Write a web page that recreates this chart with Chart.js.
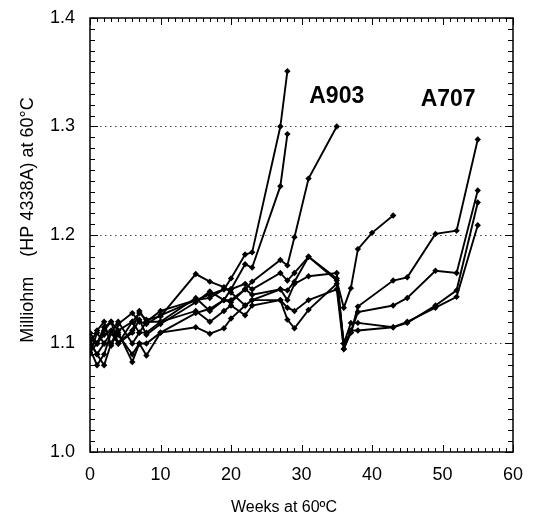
<!DOCTYPE html>
<html>
<head>
<meta charset="utf-8">
<script src="https://cdn.jsdelivr.net/npm/chart.js@4/dist/chart.umd.min.js"></script>
<style>
    html, body { margin: 0; padding: 0; background: #fff; }
    #wrap { width: 535px; height: 521px; }
</style>
</head>
<body>
<div id="wrap"><canvas id="chart"></canvas></div>
<script>
    "use strict";

    // weeks at 60 C and resistance (milliohm)
    const weeksA903a = [0, 1, 2, 3, 4, 6, 7, 8, 10, 15, 17, 19, 20, 22, 23, 27, 28];
    const ohmA903a   = [1.100, 1.112, 1.120, 1.098, 1.118, 1.128, 1.120, 1.118, 1.126, 1.140, 1.142, 1.150, 1.160, 1.182, 1.184, 1.300, 1.351];

    const weeksA903b = [0, 1, 2, 3, 4, 6, 7, 8, 10, 15, 17, 19, 20, 22, 23, 27, 28];
    const ohmA903b   = [1.092, 1.100, 1.108, 1.112, 1.100, 1.110, 1.122, 1.108, 1.118, 1.138, 1.148, 1.140, 1.150, 1.173, 1.170, 1.245, 1.293];

    const weeksA903c = [0, 1, 2, 3, 4, 6, 7, 8, 10, 15, 17, 19, 20, 22, 23, 27, 28, 29, 31, 35];
    const ohmA903c   = [1.102, 1.090, 1.080, 1.100, 1.108, 1.090, 1.100, 1.100, 1.110, 1.128, 1.132, 1.140, 1.138, 1.150, 1.157, 1.177, 1.172, 1.198, 1.252, 1.300];

    const weeksShort = [0, 1, 2, 3, 4, 6, 7, 8, 10, 15, 17, 19, 20, 22, 23, 27, 28, 29, 31, 35, 36, 37, 38, 40, 43];
    const ohmShort   = [1.105, 1.100, 1.115, 1.120, 1.112, 1.120, 1.128, 1.122, 1.125, 1.164, 1.157, 1.152, 1.147, 1.135, 1.140, 1.150, 1.149, 1.157, 1.180, 1.158, 1.133, 1.151, 1.187, 1.202, 1.218];

    const weeksA707 = [0, 1, 2, 3, 4, 6, 7, 8, 10, 15, 17, 19, 20, 22, 23, 27, 28, 29, 31, 35, 36, 37, 38, 43, 45, 49, 52, 55];
    const ohmA707a  = [1.110, 1.100, 1.112, 1.120, 1.100, 1.112, 1.130, 1.120, 1.130, 1.140, 1.145, 1.150, 1.150, 1.155, 1.150, 1.165, 1.158, 1.165, 1.180, 1.160, 1.100, 1.110, 1.134, 1.158, 1.161, 1.201, 1.204, 1.288];
    const ohmA707b  = [1.090, 1.110, 1.100, 1.110, 1.120, 1.100, 1.110, 1.110, 1.120, 1.142, 1.130, 1.140, 1.140, 1.150, 1.145, 1.150, 1.140, 1.155, 1.162, 1.165, 1.095, 1.110, 1.129, 1.135, 1.142, 1.167, 1.165, 1.241];
    const ohmA707c  = [1.100, 1.090, 1.100, 1.100, 1.110, 1.083, 1.100, 1.089, 1.110, 1.115, 1.109, 1.114, 1.123, 1.135, 1.140, 1.140, 1.122, 1.114, 1.131, 1.155, 1.100, 1.119, 1.119, 1.115, 1.119, 1.135, 1.149, 1.230];
    const ohmA707d  = [1.095, 1.080, 1.090, 1.110, 1.100, 1.120, 1.110, 1.120, 1.120, 1.130, 1.120, 1.130, 1.135, 1.126, 1.135, 1.140, 1.133, 1.130, 1.140, 1.150, 1.095, 1.112, 1.112, 1.115, 1.120, 1.133, 1.143, 1.209];

    const xTicks = [0, 10, 20, 30, 40, 50, 60];
    const yTicks = [1.0, 1.1, 1.2, 1.3, 1.4];
    const groupLabels = ["A903", "A707"];
    const groupLabelPos = [[35, 1.322], [50.8, 1.319]];

    const series = [
        [weeksA903a, ohmA903a],
        [weeksA903b, ohmA903b],
        [weeksA903c, ohmA903c],
        [weeksShort, ohmShort],
        [weeksA707, ohmA707a],
        [weeksA707, ohmA707b],
        [weeksA707, ohmA707c],
        [weeksA707, ohmA707d]
    ];

    const FONT = "'Liberation Sans', Arial, Helvetica, sans-serif";

    const datasets = series.map(([wk, ohm]) => ({
        data: wk.map((w, i) => ({ x: w, y: ohm[i] })),
        showLine: true,
        borderColor: '#000',
        backgroundColor: '#000',
        borderWidth: 1.9,
        pointStyle: 'rectRot',
        pointRadius: 3.2,
        pointBorderWidth: 0,
        tension: 0
    }));

    // frame with inward ticks on all four sides, axis titles and group labels
    const framePlugin = {
        id: 'frame',
        afterDraw(chart) {
            const ctx = chart.ctx;
            const a = chart.chartArea;
            const xs = chart.scales.x, ys = chart.scales.y;
            ctx.save();
            ctx.strokeStyle = '#000';
            ctx.lineWidth = 1.5;
            ctx.strokeRect(a.left, a.top, a.right - a.left, a.bottom - a.top);

            ctx.lineWidth = 1;
            ctx.beginPath();
            for (let w = 0; w <= 60; w++) {
                const px = Math.round(xs.getPixelForValue(w)) + 0.5;
                const len = w % 10 === 0 ? 7 : 4;
                ctx.moveTo(px, a.bottom); ctx.lineTo(px, a.bottom - len);
                ctx.moveTo(px, a.top); ctx.lineTo(px, a.top + len);
            }
            for (let k = 0; k <= 40; k++) {
                const py = Math.round(ys.getPixelForValue(1 + k / 100)) + 0.5;
                const len = k % 10 === 0 ? 8 : 5;
                ctx.moveTo(a.left, py); ctx.lineTo(a.left + len, py);
                ctx.moveTo(a.right, py); ctx.lineTo(a.right - len, py);
            }
            ctx.stroke();

            ctx.fillStyle = '#000';
            ctx.textAlign = 'center';
            ctx.textBaseline = 'middle';
            ctx.font = "16px " + FONT;
            ctx.fillText("Weeks at 60ºC", 284, 508);

            ctx.save();
            ctx.translate(28, 220);
            ctx.rotate(-Math.PI / 2);
            ctx.font = "18px " + FONT;
            ctx.fillText("Milliohm    (HP 4338A) at 60°C", 0, 0);
            ctx.restore();

            ctx.font = "bold 23px " + FONT;
            ctx.textBaseline = 'alphabetic';
            groupLabels.forEach((t, i) => {
                const [gx, gy] = groupLabelPos[i];
                ctx.fillText(t, xs.getPixelForValue(gx), ys.getPixelForValue(gy));
            });
            ctx.restore();
        }
    };

    new Chart(document.getElementById('chart'), {
        type: 'scatter',
        data: { datasets: datasets },
        options: {
            responsive: true,
            maintainAspectRatio: false,
            animation: false,
            layout: { padding: { top: 18, right: 22, left: 0, bottom: 0 } },
            plugins: {
                legend: { display: false },
                tooltip: { enabled: false }
            },
            scales: {
                x: {
                    type: 'linear',
                    min: 0,
                    max: 60,
                    afterBuildTicks: s => { s.ticks = xTicks.map(v => ({ value: v })); },
                    afterFit: s => { s.height = 69; s.paddingLeft = 0; s.paddingRight = 0; },
                    ticks: {
                        color: '#000',
                        font: { size: 18, family: FONT },
                        padding: 12,
                        maxRotation: 0
                    },
                    grid: { display: false, drawTicks: false },
                    border: { display: false }
                },
                y: {
                    min: 1.0,
                    max: 1.4,
                    afterBuildTicks: s => { s.ticks = yTicks.map(v => ({ value: v })); },
                    afterFit: s => { s.width = 90; s.paddingTop = 0; s.paddingBottom = 0; },
                    ticks: {
                        color: '#000',
                        font: { size: 18, family: FONT },
                        padding: 15,
                        callback: v => v.toFixed(1)
                    },
                    grid: {
                        drawTicks: false,
                        lineWidth: 1,
                        color: c => (c.tick && (Math.abs(c.tick.value - 1.0) < 1e-6 || Math.abs(c.tick.value - 1.4) < 1e-6)) ? 'rgba(0,0,0,0)' : '#444'
                    },
                    border: { display: false, dash: [1.5, 3.5] }
                }
            }
        },
        plugins: [framePlugin]
    });
</script>
</body>
</html>
